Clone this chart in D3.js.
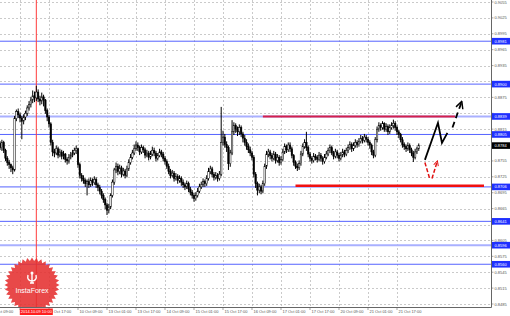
<!DOCTYPE html>
<html>
<head>
<meta charset="utf-8">
<script src="https://cdn.jsdelivr.net/npm/d3@7"></script>
<style>
  body { margin: 0; background: #fff; }
  svg { display: block; font-family: "Liberation Sans", Arial, sans-serif; }
</style>
</head>
<body>
<div id="chart"></div>
<script>
// EURGBP H1, bars indexed from 8 Oct 09:00 (index 0), weekend hours skipped
const firstIndex = 4;
const firstOpen = 8782;
// prices in pips (x 0.0001)
const closes = [
  8788,8780,8790,8775,8760,8752,8748,8742,8738,8835,
  8848,8842,8836,8830,8838,8845,8855,8862,8870,8878,
  8874,8885,8872,8868,8876,8870,8850,8838,8825,8790,
  8772,8770,8778,8766,8772,8764,8768,8758,8755,8762,
  8766,8770,8775,8778,8748,8728,8722,8718,8712,8716,
  8710,8718,8714,8720,8710,8705,8698,8690,8682,8672,
  8662,8668,8690,8715,8738,8745,8735,8742,8730,8736,
  8728,8740,8752,8762,8770,8778,8785,8780,8772,8780,
  8776,8766,8770,8762,8768,8775,8770,8760,8765,8772,
  8768,8760,8754,8745,8735,8728,8732,8722,8726,8718,
  8722,8715,8710,8706,8712,8702,8696,8690,8684,8690,
  8698,8706,8710,8716,8712,8722,8735,8740,8730,8724,
  8728,8722,8730,8790,8800,8786,8780,8750,8770,8810,
  8822,8815,8810,8818,8806,8798,8790,8782,8776,8770,
  8762,8730,8712,8700,8706,8698,8712,8745,8768,8772,
  8765,8760,8768,8756,8762,8752,8758,8772,8782,8776,
  8785,8778,8765,8752,8745,8742,8750,8768,8782,8790,
  8780,8768,8760,8756,8764,8762,8758,8766,8760,8754,
  8762,8768,8775,8780,8770,8764,8772,8766,8760,8766,
  8772,8768,8775,8780,8786,8778,8784,8790,8786,8792,
  8798,8794,8800,8796,8790,8785,8772,8766,8795,8815,
  8822,8818,8826,8815,8820,8810,8818,8822,8826,8818,
  8810,8805,8795,8786,8782,8778,8784,8776,8770,8762,
  8772,8778,8784
];
const highs = [
  8804,8792,8795,8793,8778,8764,8757,8750,8746,8840,
  8852,8854,8846,8840,8843,8850,8860,8868,8876,8888,
  8886,8897,8890,8878,8884,8880,8872,8854,8842,8828,
  8795,8778,8784,8782,8778,8776,8774,8770,8762,8768,
  8772,8776,8780,8784,8780,8752,8732,8728,8722,8720,
  8722,8724,8722,8726,8724,8714,8710,8702,8694,8686,
  8676,8674,8694,8720,8742,8752,8750,8748,8746,8742,
  8740,8746,8758,8768,8776,8786,8792,8790,8784,8786,
  8784,8780,8776,8774,8774,8782,8780,8774,8770,8778,
  8776,8772,8764,8758,8750,8740,8738,8736,8732,8730,
  8728,8726,8720,8714,8718,8716,8706,8700,8694,8696,
  8704,8712,8716,8722,8720,8728,8742,8746,8744,8734,
  8734,8732,8736,8857,8812,8806,8792,8784,8776,8832,
  8828,8826,8820,8824,8822,8810,8804,8796,8788,8782,
  8774,8766,8734,8716,8712,8710,8718,8750,8774,8778,
  8776,8770,8774,8772,8768,8766,8764,8778,8788,8786,
  8790,8790,8782,8768,8756,8750,8756,8774,8788,8796,
  8810,8784,8772,8764,8770,8768,8766,8772,8770,8764,
  8768,8774,8780,8786,8784,8774,8778,8776,8770,8772,
  8778,8776,8780,8786,8792,8790,8790,8796,8794,8798,
  8804,8802,8806,8804,8800,8794,8788,8776,8800,8820,
  8828,8826,8830,8828,8826,8824,8824,8828,8833,8830,
  8822,8814,8808,8800,8790,8786,8790,8788,8780,8774,
  8778,8782,8788
];
const lows = [
  8778,8776,8774,8770,8755,8746,8740,8734,8730,8735,
  8830,8836,8828,8796,8824,8832,8840,8850,8856,8864,
  8866,8868,8866,8860,8862,8858,8844,8830,8818,8784,
  8764,8762,8766,8760,8762,8758,8758,8752,8748,8750,
  8758,8762,8766,8768,8742,8722,8716,8712,8706,8690,
  8704,8706,8708,8710,8704,8698,8692,8684,8676,8664,
  8653,8656,8664,8686,8710,8732,8728,8730,8724,8726,
  8722,8724,8736,8748,8758,8766,8774,8774,8766,8768,
  8770,8760,8762,8756,8758,8764,8764,8754,8756,8762,
  8762,8754,8748,8740,8730,8722,8724,8716,8718,8712,
  8714,8708,8704,8700,8702,8696,8690,8684,8678,8680,
  8686,8694,8702,8706,8706,8708,8718,8730,8724,8718,
  8720,8716,8718,8726,8784,8780,8772,8738,8744,8766,
  8804,8808,8802,8804,8800,8790,8784,8776,8770,8764,
  8756,8724,8704,8690,8694,8692,8694,8708,8740,8762,
  8758,8754,8756,8750,8752,8746,8748,8754,8768,8770,
  8772,8772,8760,8746,8740,8736,8738,8746,8764,8778,
  8774,8762,8754,8750,8752,8756,8752,8754,8754,8748,
  8750,8758,8764,8770,8766,8758,8760,8760,8754,8756,
  8762,8762,8764,8770,8776,8772,8774,8780,8780,8782,
  8788,8788,8790,8790,8784,8778,8766,8760,8762,8790,
  8810,8812,8814,8810,8810,8804,8806,8814,8816,8812,
  8804,8798,8790,8780,8776,8772,8774,8770,8764,8753,
  8758,8768,8774
];

// time labels every 16 bars starting at index 0
const timeLabels = ["8 Oct 09:00","9 Oct 01:00","9 Oct 17:00","10 Oct 09:00","13 Oct 01:00",
  "13 Oct 17:00","14 Oct 09:00","15 Oct 01:00","15 Oct 17:00","16 Oct 09:00",
  "17 Oct 01:00","17 Oct 17:00","20 Oct 09:00","21 Oct 01:00","21 Oct 17:00"];
const priceTicks = d3.range(0, 20).map(k => +(0.8485 + k * 0.003).toFixed(4));

// horizontal levels
const blueLevels = [0.8981, 0.8900, 0.8839, 0.8805, 0.8706, 0.8641, 0.8596, 0.8560];
const lightLevels = [0.8839, 0.8596];
const lastPrice = 0.8784;
const markerIndex = 25;
const markerLabel = "2014.10.09 10:00";

// drawn annotations: [bar index, price]
const resistance = [[150, 0.8839], [256, 0.8839]];
const support = [[168, 0.8708], [272, 0.8708]];
const blackZig = [[239.4, 0.8757], [246.6, 0.8827], [248.8, 0.8789], [251.8, 0.8808]];
const blackDash = [[254.6, 0.8818], [259.6, 0.8866]];
const redDown = [[239.4, 0.8752], [242, 0.8722]];
const redUp = [[243.3, 0.8722], [246.2, 0.8754]];

const W = 510, H = 316, plotR = 491, plotB = 307;

const svg = d3.select("#chart").append("svg")
  .attr("width", W).attr("height", H);
svg.append("rect").attr("width", W).attr("height", H).attr("fill", "#fff");

const x = d3.scaleLinear().domain([16, 32]).range([20, 49]);
const y = d3.scaleLinear().domain([0.8485, 0.9055]).range([304, 2]);

const plot = svg.append("g");
plot.append("clipPath").attr("id", "clip")
  .append("rect").attr("width", plotR).attr("height", plotB);
const g = plot.append("g").attr("clip-path", "url(#clip)");

// grid
g.selectAll(".hg").data(priceTicks).join("line")
  .attr("x1", 0).attr("x2", plotR)
  .attr("y1", d => Math.round(y(d)) + 0.5).attr("y2", d => Math.round(y(d)) + 0.5)
  .attr("stroke", "#bdbdbd").attr("stroke-dasharray", "2,2").attr("stroke-width", 0.8);
g.selectAll(".vg").data(timeLabels).join("line")
  .attr("x1", (d, i) => Math.round(x(i * 16)) + 0.5).attr("x2", (d, i) => Math.round(x(i * 16)) + 0.5)
  .attr("y1", 0).attr("y2", plotB)
  .attr("stroke", "#bdbdbd").attr("stroke-dasharray", "2,2").attr("stroke-width", 0.8);

// level lines
g.selectAll(".lvl").data(blueLevels).join("line")
  .attr("x1", 0).attr("x2", plotR)
  .attr("y1", d => y(d)).attr("y2", d => y(d))
  .attr("stroke", d => lightLevels.includes(d) ? "#a9b0ff" : "#5563ff")
  .attr("stroke-width", d => lightLevels.includes(d) ? 2 : 1);

// red vertical marker
g.append("line")
  .attr("x1", x(markerIndex)).attr("x2", x(markerIndex))
  .attr("y1", 0).attr("y2", plotB)
  .attr("stroke", "#ff3b3b").attr("stroke-width", 1);

// candles
const bars = closes.map((c, k) => ({
  i: firstIndex + k,
  o: (k === 0 ? firstOpen : closes[k - 1]) / 10000,
  c: c / 10000,
  h: highs[k] / 10000,
  l: lows[k] / 10000
}));
const cg = g.append("g");
cg.selectAll("line").data(bars).join("line")
  .attr("x1", d => x(d.i)).attr("x2", d => x(d.i))
  .attr("y1", d => y(d.h)).attr("y2", d => y(d.l))
  .attr("stroke", "#000").attr("stroke-width", 1);
cg.selectAll("rect").data(bars).join("rect")
  .attr("x", d => x(d.i) - 0.75).attr("width", 1.5)
  .attr("y", d => y(Math.max(d.o, d.c)))
  .attr("height", d => Math.max(0.6, Math.abs(y(d.o) - y(d.c))))
  .attr("fill", d => d.c >= d.o ? "#fff" : "#000")
  .attr("stroke", "#000").attr("stroke-width", 0.5);

// drawn support / resistance
const line = d3.line().x(d => x(d[0])).y(d => y(d[1]));
g.append("path").attr("d", line(resistance))
  .attr("stroke", "#d4204c").attr("stroke-width", 2).attr("fill", "none");
g.append("path").attr("d", line(support))
  .attr("stroke", "#f01010").attr("stroke-width", 2.5).attr("fill", "none");

// arrow heads
const defs = svg.append("defs");
defs.append("marker").attr("id", "ahBlack").attr("viewBox", "0 0 10 10")
  .attr("refX", 8).attr("refY", 5).attr("markerWidth", 5).attr("markerHeight", 5)
  .attr("orient", "auto").append("path").attr("d", "M1,1 L9,5 L1,9")
  .attr("fill", "none").attr("stroke", "#000").attr("stroke-width", 1.6);
defs.append("marker").attr("id", "ahRed").attr("viewBox", "0 0 10 10")
  .attr("refX", 8).attr("refY", 5).attr("markerWidth", 4).attr("markerHeight", 4)
  .attr("orient", "auto").append("path").attr("d", "M1,1 L9,5 L1,9")
  .attr("fill", "none").attr("stroke", "#e01010").attr("stroke-width", 1.6);

g.append("path").attr("d", line(blackZig))
  .attr("stroke", "#000").attr("stroke-width", 1.8).attr("fill", "none");
g.append("path").attr("d", line(blackDash))
  .attr("stroke", "#000").attr("stroke-width", 1.8).attr("fill", "none")
  .attr("stroke-dasharray", "6,4").attr("marker-end", "url(#ahBlack)");
g.append("path").attr("d", line(redDown))
  .attr("stroke", "#e01010").attr("stroke-width", 1.5).attr("fill", "none")
  .attr("stroke-dasharray", "4,2");
g.append("path").attr("d", line(redUp))
  .attr("stroke", "#e01010").attr("stroke-width", 1.5).attr("fill", "none")
  .attr("stroke-dasharray", "4,2").attr("marker-end", "url(#ahRed)");

// InstaForex badge
const logo = svg.append("g").attr("transform", "translate(32,285)");
const nPts = 36;
const star = d3.range(nPts * 2).map(k => {
  const a = k * Math.PI / nPts, r = k % 2 ? 24 : 27.5;
  return [Math.sin(a) * r, -Math.cos(a) * r];
});
logo.append("path").attr("d", "M" + star.join("L") + "Z")
  .attr("fill", "#e53030").attr("fill-opacity", 0.88);
logo.append("path")
  .attr("d", "M0,-12 L0,-2 M-4,-10 C-5,-6 -3,-4 0,-4 C3,-4 5,-6 4,-10 M-2,-2 L2,-2")
  .attr("stroke", "#fff").attr("stroke-width", 1.4).attr("fill", "none");
logo.append("circle").attr("cx", 0).attr("cy", -12).attr("r", 1.5).attr("fill", "#fff");
logo.append("text").attr("x", 0).attr("y", 8).attr("text-anchor", "middle")
  .attr("font-size", 7).attr("fill", "#fff").text("InstaForex");

// axes area
svg.append("rect").attr("x", 0).attr("y", plotB).attr("width", W).attr("height", H - plotB).attr("fill", "#fff");
svg.append("rect").attr("x", plotR).attr("y", 0).attr("width", W - plotR).attr("height", H).attr("fill", "#fff");
svg.append("line").attr("x1", 0).attr("x2", plotR + 0.5).attr("y1", plotB + 0.5).attr("y2", plotB + 0.5)
  .attr("stroke", "#666").attr("stroke-width", 1);
svg.append("line").attr("x1", plotR + 0.5).attr("x2", plotR + 0.5).attr("y1", 0).attr("y2", plotB + 0.5)
  .attr("stroke", "#666").attr("stroke-width", 1);

// price labels (those hidden under a level box are skipped)
const boxes = blueLevels.map(v => ({ v, fill: "#1f30ff" })).concat([{ v: lastPrice, fill: "#000" }]);
const freeTicks = priceTicks.filter(t => boxes.every(b => Math.abs(y(t) - y(b.v)) > 4.5));
const yl = svg.append("g");
yl.selectAll("line").data(priceTicks).join("line")
  .attr("x1", plotR).attr("x2", plotR + 2.5)
  .attr("y1", d => y(d)).attr("y2", d => y(d)).attr("stroke", "#666").attr("stroke-width", 0.6);
yl.selectAll("text").data(freeTicks).join("text")
  .attr("x", plotR + 3.5).attr("y", d => y(d) + 1.5)
  .attr("font-size", 4).attr("fill", "#555").text(d => d.toFixed(4));

// level boxes
const bx = svg.append("g").selectAll("g").data(boxes).join("g")
  .attr("transform", d => `translate(${plotR + 1},${y(d.v)})`);
bx.append("rect").attr("x", 0).attr("y", -3.3).attr("width", 18).attr("height", 6.6).attr("fill", d => d.fill);
bx.append("text").attr("x", 2.5).attr("y", 1.5).attr("font-size", 4).attr("fill", "#fff")
  .text(d => d.v.toFixed(4));

// time labels (the one whose tick sits under the marker box is skipped)
const mx = x(markerIndex);
const xl = svg.append("g");
xl.selectAll("line").data(timeLabels).join("line")
  .attr("x1", (d, i) => x(i * 16)).attr("x2", (d, i) => x(i * 16))
  .attr("y1", plotB).attr("y2", plotB + 3).attr("stroke", "#666").attr("stroke-width", 0.6);
xl.selectAll("text").data(timeLabels.map((t, i) => ({ t, i }))
    .filter(d => !(x(d.i * 16) < mx && x(d.i * 16) > mx - 17)))
  .join("text")
  .attr("x", d => x(d.i * 16) + 1.5).attr("y", 313)
  .attr("font-size", 4).attr("fill", "#555").text(d => d.t);

// marker time box
svg.append("rect").attr("x", mx - 16.5).attr("y", 308.5).attr("width", 33).attr("height", 6.5).attr("fill", "#ff1f1f");
svg.append("text").attr("x", mx).attr("y", 313.3).attr("text-anchor", "middle")
  .attr("font-size", 4).attr("fill", "#fff").text(markerLabel);
</script>
</body>
</html>
